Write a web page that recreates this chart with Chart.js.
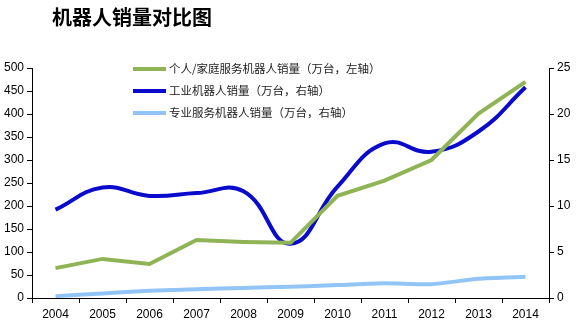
<!DOCTYPE html>
<html>
<head>
<meta charset="utf-8">
<script src="https://cdn.jsdelivr.net/npm/chart.js@4"></script>
<style>
  body { margin: 0; background: #fff; }
  #wrap { width: 581px; height: 327px; position: relative; }
</style>
</head>
<body>
<div id="wrap"><canvas id="chart" width="581" height="327"></canvas></div>
<script>
const years = ["2004", "2005", "2006", "2007", "2008", "2009", "2010", "2011", "2012", "2013", "2014"];
// 个人/家庭服务机器人 (左轴)
const homeSales = [65, 85, 74, 126, 122, 120, 222, 255, 300, 401, 470];
// 工业机器人 (右轴)
const industrySales = [9.6, 12.0, 11.1, 11.4, 11.6, 5.9, 12.1, 16.8, 15.9, 18.1, 22.9];
// 专业服务机器人 (右轴)
const proSales = [0.2, 0.5, 0.8, 0.95, 1.1, 1.23, 1.4, 1.6, 1.5, 2.1, 2.3];
const leftTicks = [0, 50, 100, 150, 200, 250, 300, 350, 400, 450, 500];
const rightTicks = [0, 5, 10, 15, 20, 25];
const labels = [
  "个人/家庭服务机器人销量（万台，左轴）",
  "工业机器人销量（万台，右轴）",
  "专业服务机器人销量（万台，右轴）"
];

const tickFont = { family: "'Liberation Sans', Arial, sans-serif", size: 12 };

// title + in-chart legend
const decor = {
  id: "decor",
  afterDraw(c) {
    const ctx = c.ctx;
    ctx.save();
    ctx.fillStyle = "#000";
    ctx.font = "bold 20px 'Noto Sans CJK SC'";
    ctx.textBaseline = "middle";
    ctx.fillText("机器人销量对比图", 52, 17);
    ctx.font = "11.5px 'Noto Sans CJK SC'";
    ctx.fillStyle = "#222";
    const rows = [69, 91, 113];
    c.data.datasets.forEach((ds, i) => {
      ctx.strokeStyle = ds.borderColor;
      ctx.lineWidth = 4;
      ctx.beginPath();
      ctx.moveTo(133, rows[i]);
      ctx.lineTo(166, rows[i]);
      ctx.stroke();
      ctx.fillText(ds.label, 169, rows[i]);
    });
    ctx.restore();
  }
};

new Chart(document.getElementById("chart"), {
  type: "line",
  data: {
    labels: years,
    datasets: [
      { label: labels[0], data: homeSales, yAxisID: "y", borderColor: "#8FB456", borderWidth: 4, tension: 0, pointRadius: 0 },
      { label: labels[1], data: industrySales, yAxisID: "y1", borderColor: "#0A0ACC", borderWidth: 4, tension: 0.45, pointRadius: 0 },
      { label: labels[2], data: proSales, yAxisID: "y1", borderColor: "#92C5F5", borderWidth: 4, tension: 0.2, pointRadius: 0 }
    ]
  },
  options: {
    responsive: false,
    animation: false,
    layout: { padding: { top: 68, left: 0, right: 0, bottom: 0 } },
    plugins: { legend: { display: false }, tooltip: { enabled: false } },
    scales: {
      x: {
        offset: true,
        grid: { drawOnChartArea: false, offset: true, tickLength: 5, color: "#000" },
        border: { color: "#000", width: 1 },
        ticks: { color: "#000", font: tickFont, maxRotation: 0, padding: 4 },
        afterFit: s => { s.height = 29; }
      },
      y: {
        position: "left",
        min: 0, max: 500,
        afterBuildTicks: s => { s.ticks = leftTicks.map(v => ({ value: v })); },
        grid: { drawOnChartArea: false, tickLength: 5, color: "#000" },
        border: { color: "#000", width: 1 },
        ticks: { color: "#000", font: tickFont, padding: 3 },
        afterFit: s => { s.width = 32; }
      },
      y1: {
        position: "right",
        min: 0, max: 25,
        afterBuildTicks: s => { s.ticks = rightTicks.map(v => ({ value: v })); },
        grid: { drawOnChartArea: false, tickLength: 5, color: "#000" },
        border: { color: "#000", width: 1 },
        ticks: { color: "#000", font: tickFont, padding: 3 },
        afterFit: s => { s.width = 32; }
      }
    }
  },
  plugins: [decor]
});
</script>
</body>
</html>
